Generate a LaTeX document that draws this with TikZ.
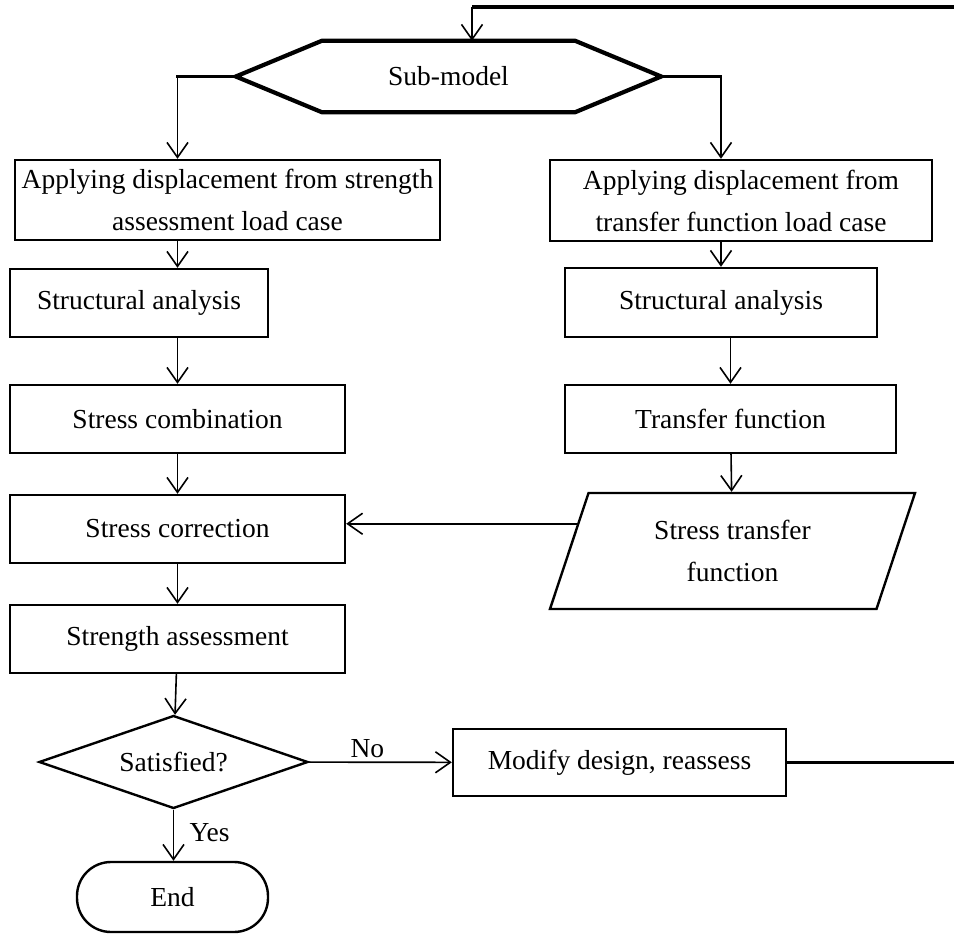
\documentclass[tikz,border=0pt]{standalone}
\usepackage{fontspec}
\setmainfont{Liberation Serif}
\usepackage{tikz}
\usetikzlibrary{
	arrows.meta,
	positioning,
	shapes.geometric,
	calc
}
\tikzset{
  % arrow
	fcra/.style       ={-{Straight Barb[length=15pt,width=21pt]}, line width=1.6pt}, % down/right arrow
  % line
	fcline/.style     ={line width=2.6pt, line cap=rect},
	fcthick/.style    ={line width=3.2pt}, % return line
	fchexline/.style  ={line width=4.2pt, line join=miter},
  % node
	fcnode/.style     ={draw=black, line width=2.4pt, align=center, inner sep=0pt,
	                    font=\fontsize{27.5}{42}\selectfont},
	fcbox/.style      ={fcnode, minimum width=335pt, minimum height=68pt},
	fcboxs/.style     ={fcnode, minimum width=258pt, minimum height=68pt},
	fcboxr/.style     ={fcnode, minimum width=331pt, minimum height=68pt},
	fchex/.style      ={align=center, inner sep=0pt, minimum width=425pt, minimum height=71pt,
	                    font=\fontsize{27.5}{42}\selectfont},
	fcio/.style       ={fcnode, trapezium, trapezium left angle=58, trapezium right angle=122,
	                    trapezium stretches body, minimum width=365pt, minimum height=116pt},
	fcdecide/.style   ={fcnode, diamond, aspect=2.9, minimum width=269pt, minimum height=93pt},
	fcend/.style      ={fcnode, rounded corners=34pt, minimum width=191pt, minimum height=70pt},
	fclabel/.style    ={font=\fontsize{27.5}{42}\selectfont}
}

\begin{document}
\begin{tikzpicture}[x=1pt,y=-1pt]
	\useasboundingbox (0,0) rectangle (954,934);
	% sub-model
	\node[fchex] (sub) at (448.5,76.5) {Sub-model};
	\draw[fchexline] (sub.west) -- ([xshift=86pt]sub.north west) -- ([xshift=-86pt]sub.north east)
		-- (sub.east) -- ([xshift=-86pt]sub.south east) -- ([xshift=86pt]sub.south west) -- cycle;
	% left column
	\node[fcnode, minimum width=425pt, minimum height=80pt] (appS) at (227.5,200)
		{Applying displacement from strength\\assessment load case};
	\node[fcboxs] (anaS) at (139,303) {Structural analysis};
	\node[fcbox] (comb) at (177.5,419) {Stress combination};
	\node[fcbox] (corr) at (177.5,529) {Stress correction};
	\node[fcbox] (asse) at (177.5,639) {Strength assessment};
	\node[fcdecide] (sat) at (173.5,762) {Satisfied?};
	\node[fcend] (fin) at (172.5,897) {End};
	% right column
	\node[fcnode, minimum width=382pt, minimum height=81pt] (appT) at (741,200.5)
		{Applying displacement from\\transfer function load case};
	\node[fcnode, minimum width=312pt, minimum height=69pt] (anaT) at (721,302.5) {Structural analysis};
	\node[fcboxr] (tran) at (730.5,419) {Transfer function};
	\node[fcio] (stf) at (732.5,551) {Stress transfer\\function};
	\node[fcnode, minimum width=333pt, minimum height=67pt] (modi) at (619.5,762.5)
		{Modify design, reassess};
	% loop back
	\coordinate (rtop) at (954,7);
	\coordinate (ttop) at (472,7);
	\draw[fcthick] (modi.east) -- (modi.east -| rtop);
	\draw[fcthick] (rtop) -- (ttop);
	\draw[fcra] (ttop) -- (ttop |- sub.north);
	% connectors
	\draw[fcline] (sub.west) -- (sub.west -| comb);
	\draw[fcra] (sub.west -| comb) -- (appS.north -| comb);
	\draw[fcline] (sub.east) -- (sub.east -| anaT);
	\draw[fcra] (sub.east -| anaT) -- (appT.north -| anaT);
	\draw[fcra] (appS.south -| comb) -- (anaS.north -| comb);
	\draw[fcra] (anaS.south -| comb) -- (comb);
	\draw[fcra] (comb) -- (corr);
	\draw[fcra] (corr) -- (asse);
	\draw[fcra] (asse) -- (sat);
	\draw[fcra] (sat.south) -- node[fclabel, right, xshift=12pt, pos=.45] {Yes} (sat.south |- fin.north);
	\draw[fcra] (sat) -- node[fclabel, above, pos=.41] {No} (modi);
	\draw[fcra] (appT.south -| anaT) -- (anaT);
	\draw[fcra] (anaT.south -| tran) -- (tran);
	\draw[fcra] (tran) -- (stf);
	\coordinate (stfin) at ($(stf.top left corner)!0.27!(stf.bottom left corner)$);
	\draw[fcra] (stfin) -- (stfin -| corr.east);
\end{tikzpicture}
\end{document}
